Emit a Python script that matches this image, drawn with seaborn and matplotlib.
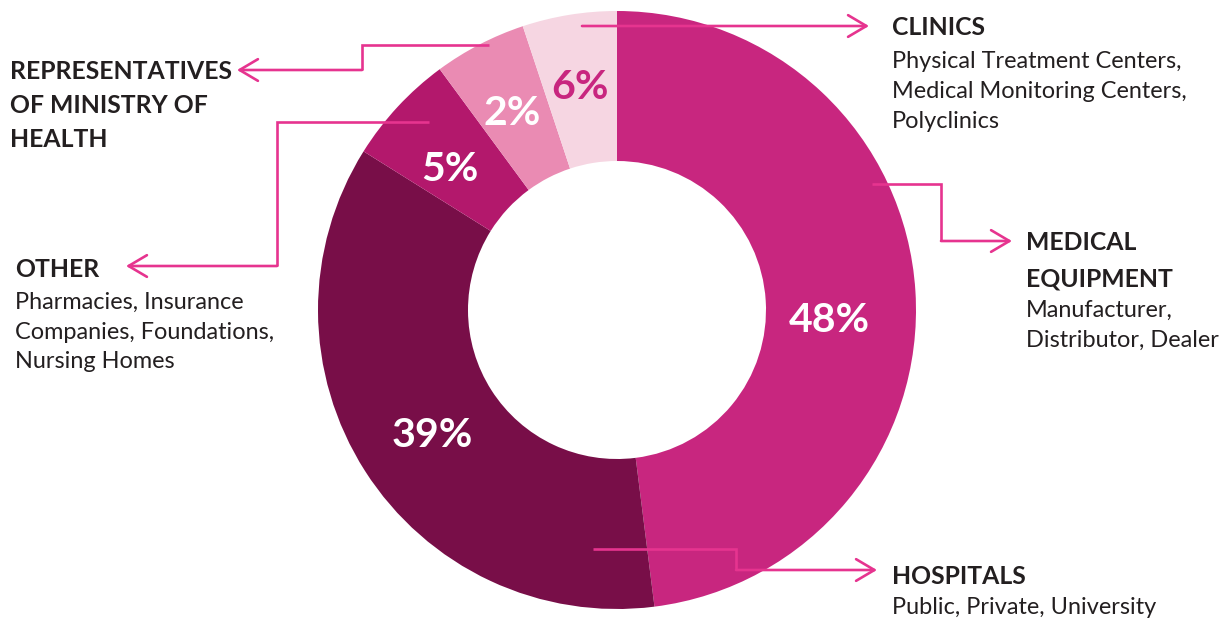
import matplotlib
matplotlib.use("Agg")
import matplotlib.pyplot as plt
import seaborn as sns

# ---- data ----
segments = ["Medical Equipment", "Hospitals", "Other", "Representatives of Ministry of Health", "Clinics"]
shares = [48.0, 35.9, 6.0, 5.0, 5.1]          # slice sizes as drawn
pct_labels = ["48%", "39%", "5%", "2%", "6%"]  # printed labels
slice_colors = ["#C8267F", "#780E48", "#B3186C", "#EA8BB3", "#F6D6E2"]
pct_colors = ["white", "white", "white", "white", "#C8267F"]

headers = ["CLINICS", "MEDICAL\nEQUIPMENT", "HOSPITALS", "OTHER",
           "REPRESENTATIVES\nOF MINISTRY OF\nHEALTH"]
details = [["Physical Treatment Centers,", "Medical Monitoring Centers,", "Polyclinics"],
           ["Manufacturer,", "Distributor, Dealer"],
           ["Public, Private, University"],
           ["Pharmacies, Insurance", "Companies, Foundations,", "Nursing Homes"],
           []]

# ---- style ----
sns.set_theme(style="white")
plt.rcParams["font.family"] = ["Lato", "DejaVu Sans"]
TEXT = "#231F20"
LINE = "#E6348F"

W, H = 1231, 621
fig = plt.figure(figsize=(W / 100, H / 100), dpi=100)
ax = fig.add_axes([0, 0, 1, 1])

def Y(py):
    return H - py

cx, cy, R, r = 617, 310, 299, 149
ax.pie(shares, colors=slice_colors, startangle=90, counterclock=False,
       center=(cx, Y(cy)), radius=R, frame=True,
       wedgeprops=dict(width=R - r, linewidth=0))
ax.set_xlim(0, W)
ax.set_ylim(0, H)
ax.set_aspect("auto")
ax.axis("off")

# percentage labels
pct_pos = [(829, 317), (432, 432), (450, 166), (512, 110), (580, 84)]
for lab, col, (px, py) in zip(pct_labels, pct_colors, pct_pos):
    ax.text(px, Y(py), lab, color=col, fontsize=29.5, fontweight="bold",
            ha="center", va="center_baseline")

# leader lines (pixel layout)
leaders = [
    [(582, 26), (869, 26)],
    [(872, 184), (941, 184), (941, 241), (1012, 241)],
    [(593, 549), (736, 549), (736, 570), (877, 570)],
    [(429, 122), (277, 122), (277, 266), (126, 266)],
    [(489, 45), (362, 45), (362, 70), (237, 70)],
]
for pts in leaders:
    xs = [p[0] for p in pts[:-1]]
    ys = [Y(p[1]) for p in pts[:-1]]
    if len(xs) > 1:
        ax.plot(xs, ys, color=LINE, lw=1.9, solid_capstyle="butt", solid_joinstyle="miter")
    (x0, y0), (x1, y1) = pts[-2], pts[-1]
    ax.annotate("", xy=(x1, Y(y1)), xytext=(x0, Y(y0)),
                arrowprops=dict(arrowstyle="->,head_length=1.1,head_width=0.65",
                                color=LINE, lw=1.9, shrinkA=0, shrinkB=0))

# text blocks: x, header baselines, detail baselines
blocks = [
    (892, [35], [68, 98, 128]),
    (1026, [250, 286], [317, 347]),
    (892, [584], [614]),
    (15, [277], [309, 339, 368]),
    (10, [79, 113, 147], []),
]
for hdr, det, (tx, hb, db) in zip(headers, details, blocks):
    for line, b in zip(hdr.split("\n"), hb):
        ax.text(tx, Y(b), line, color=TEXT, fontsize=17.8, fontweight="bold",
                ha="left", va="baseline")
    for line, b in zip(det, db):
        ax.text(tx, Y(b), line, color=TEXT, fontsize=16.9, fontweight="normal",
                ha="left", va="baseline")

fig.savefig("out.png", dpi=100)
